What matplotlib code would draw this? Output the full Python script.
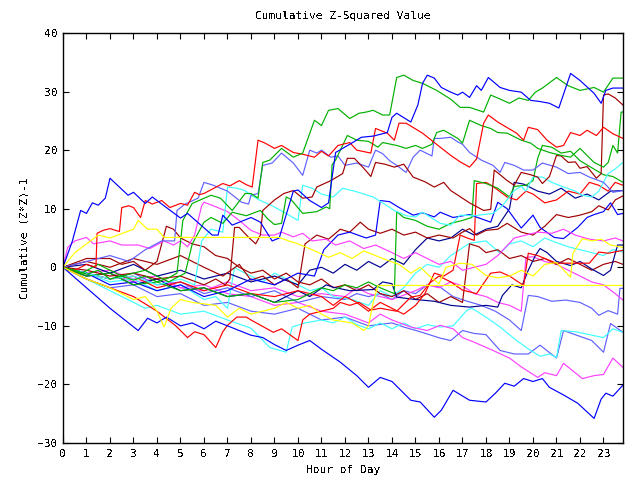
import matplotlib
matplotlib.use("Agg")
import matplotlib.pyplot as plt

# ---- data: (hour, cumulative value) vertices for each series ----
blue_top = [(0,0),(0.4,4.5),(0.75,9.7),(1.0,9.2),(1.25,11),(1.5,10.6),(1.8,11.8),(2.0,15.2),(2.77,12.3),(3.0,12.8),(3.5,10.9),(3.8,12),(5.0,8.4),(5.3,9.2),(6.35,5.5),(6.6,5.5),(6.8,8.9),(7.2,7.2),(8.0,8.5),(8.4,7.7),(8.9,4.5),(9.2,5),(9.8,13),(10.0,13.2),(10.5,11.4),(11.0,10.2),(11.3,11),(11.6,19.6),(12.2,21),(12.7,22.2),(13.2,22.4),(13.8,23),(14.0,25.6),(14.2,26.3),(14.8,24.8),(15.1,27.7),(15.3,31.4),(15.5,32.8),(15.8,32.3),(16.1,30.7),(16.5,29.9),(16.8,29.4),(17.0,29.9),(17.3,29),(17.6,31),(17.8,30.2),(18.1,32.4),(18.6,30.7),(19.0,30.2),(19.5,29.9),(19.9,28.5),(20.3,28.3),(20.7,28),(21.1,27.2),(21.6,33.1),(22.0,31.9),(22.6,29.7),(22.9,28),(23.1,30.2),(23.4,30.6),(23.83,30.6)]
green_top = [(0,0),(0.5,-0.5),(1,-1.2),(1.5,-0.5),(2,-2),(2.5,-1.5),(3,-2.2),(3.5,-1.5),(4,-2.5),(4.5,-1.8),(4.85,-1),(5.1,8.0),(5.5,10.9),(6.3,12.3),(6.7,11.8),(7.2,9.7),(7.75,12.6),(8.0,12.6),(8.3,11.8),(8.5,17.9),(8.8,18.3),(9.3,20.3),(9.8,18.8),(10.2,19.5),(10.7,25.1),(11.0,24.2),(11.3,26.8),(11.7,27.1),(12.2,25.4),(12.6,26.3),(12.9,26.5),(13.2,26.8),(13.6,26),(13.9,26),(14.2,32.4),(14.5,32.8),(14.9,31.9),(15.3,31.4),(15.9,30.2),(16.5,28.7),(16.9,27.3),(17.3,27.3),(17.9,26.5),(18.2,29.4),(18.5,28.9),(19.0,28),(19.4,28.9),(19.8,28.5),(20.1,29.9),(20.4,30.6),(21.0,32.4),(21.5,31),(22.0,30.2),(22.6,30.7),(23.0,29.9),(23.4,32.3),(23.83,32.3)]
green_mid = [(0,0),(0.8,-1),(1.5,0.5),(2.5,-1.5),(3.5,-0.5),(4.5,-2.5),(5.2,-1),(5.5,4),(6.0,7.7),(6.3,8.5),(6.8,7.5),(7.2,9.4),(7.8,8.8),(8.4,9.7),(8.7,8.3),(9.0,7.3),(9.3,7.5),(9.5,12.0),(9.7,11.6),(10.2,9.2),(10.8,9.5),(11.2,10.3),(11.35,10.0),(11.45,17.5),(11.6,18.3),(12.1,22.5),(12.5,21.7),(13.0,21.5),(13.4,20.5),(13.6,21.3),(14.2,20.8),(14.6,20.3),(15.0,20.8),(15.3,20.3),(15.7,21),(15.9,23),(16.2,23.4),(16.8,22),(17.0,21.2),(17.3,25.1),(17.8,24.2),(18.2,23.7),(18.5,23),(18.9,22.9),(19.5,21.7),(19.9,21.2),(20.2,20.3),(20.7,19.6),(21.2,19.1),(21.6,18.8),(22.0,20.3),(22.3,19.1),(22.6,17.9),(23.0,17.1),(23.2,17.9),(23.4,20.8),(23.6,19.5),(23.75,26.5),(23.83,26.5)]
red_upper = [(0,0),(0.5,-0.5),(1.0,0.5),(1.4,0),(1.45,5.8),(1.7,6.3),(2.0,6.6),(2.4,6.1),(2.5,10.2),(2.8,10.5),(3.0,10.2),(3.3,8.5),(3.5,11.4),(3.8,10.8),(4.2,11.4),(4.55,10.2),(5.0,10.9),(5.3,10.6),(5.6,12.8),(5.8,12.4),(6.0,12.6),(6.8,14.3),(7.1,13.9),(7.5,14.8),(7.8,14.1),(8.05,13.7),(8.3,21.7),(8.6,21.2),(9.0,20.3),(9.3,20.8),(9.8,19.6),(10.2,19.3),(10.7,18.8),(11.0,19.8),(11.3,19.0),(11.7,20.8),(12.2,21.3),(12.5,20.0),(13.1,19.5),(13.3,23.7),(13.8,22.9),(14.1,21.7),(14.3,24.6),(14.6,24.6),(15.3,22.9),(15.8,21.3),(16.5,19.1),(16.9,18.0),(17.3,17.1),(17.6,18.5),(17.9,24.6),(18.1,26),(18.5,24.8),(19.3,22.9),(19.6,21.7),(19.8,23.9),(20.2,23.5),(20.6,21.7),(21.0,20.5),(21.3,20.8),(21.6,23),(22.0,22.5),(22.3,23.4),(22.7,22.5),(23.0,23.9),(23.4,22.8),(23.83,22)]
lav_upper = [(0,0),(1,1),(2,2),(2.8,1),(3.5,3),(4.2,4.5),(4.75,4.5),(4.85,9.7),(5.2,10.8),(5.75,11.8),(6.0,14.5),(6.4,14),(7.0,13),(7.6,11.1),(7.9,10.8),(8.0,12.3),(8.3,12.6),(8.5,17.4),(8.9,17.8),(9.3,19.5),(9.8,17.8),(10.2,15.7),(10.5,20),(10.8,19.5),(11.0,20),(11.4,18.8),(11.7,19),(12.0,17.4),(12.5,17.8),(13.0,17.1),(13.3,20),(13.6,19.4),(13.9,18.2),(14.2,17.4),(14.6,16.2),(14.9,18.8),(15.2,20),(15.5,19.4),(15.7,19),(15.8,22),(16.05,22),(16.5,22.2),(16.8,21.4),(17.0,21),(17.3,19.6),(17.8,18.3),(18.3,17.4),(18.6,16.2),(18.8,17.9),(19.2,17.4),(19.6,16.6),(20.0,16.6),(20.4,17.8),(21.0,17.1),(21.5,16),(22.0,16.2),(22.4,15.4),(23.0,14.5),(23.4,12.8),(23.83,13.1)]
dred_upper = [(0,0),(1,-0.5),(2,-1.5),(3,-1),(4,-2),(5,-1.5),(6,-3),(6.5,-2),(6.9,-3),(7.1,-2),(7.3,6.8),(7.5,6.8),(7.9,5.1),(8.2,4.0),(8.4,5.5),(8.5,9.7),(9.0,11.5),(9.4,12.6),(9.8,13.1),(10.2,11.8),(10.6,12.0),(10.8,13.7),(11.4,14.8),(11.9,16.0),(12.1,18.6),(12.4,18.6),(12.8,16.9),(13.1,15.5),(13.3,17.9),(13.7,17.6),(14.1,17.1),(14.5,17.6),(14.9,15.4),(15.4,14.6),(15.8,13.7),(16.2,14.5),(16.5,13.1),(17.3,11.0),(17.9,9.7),(18.2,9.9),(18.35,16.6),(18.6,15.8),(18.9,14.8),(19.2,14.0),(19.5,16.2),(19.9,15.8),(20.2,15.4),(20.4,14.3),(20.7,15.5),(21.0,19.1),(21.2,19.0),(21.5,17.9),(21.8,18.0),(22.0,16.9),(22.3,17.2),(22.7,15.2),(22.9,16.0),(23.0,29.4),(23.2,29.6),(23.5,28.9),(23.83,27.7)]
cyan_upper = [(0,0),(1,-1),(2,-2),(3,-1.5),(4,-3),(5,-2),(5.6,-3),(5.9,4.5),(6.0,5),(6.3,6.5),(6.8,6),(7.0,13.7),(7.4,13.5),(7.75,13.1),(8.0,12.3),(8.4,11.4),(8.9,10.5),(9.4,9.4),(10.0,8.0),(10.2,14),(10.6,13.5),(11.0,12.5),(11.5,12),(11.9,13.5),(12.4,13),(12.8,12.5),(13.2,12),(13.6,11),(14.1,9.7),(14.6,8.8),(15.0,8.6),(15.3,9.4),(15.7,8.4),(16.05,7.5),(16.5,7.2),(16.9,8.9),(17.5,8.8),(18.3,9.2),(18.7,10.5),(19.2,13.1),(19.5,13.8),(19.7,13),(20.0,15.4),(20.4,15.4),(20.8,14.5),(21.3,13.7),(21.8,13),(22.1,12.3),(22.5,12),(22.8,13),(23.2,16),(23.5,16.8),(23.83,17.9)]
blue_low = [(0,0),(1,-3.5),(2,-7),(3.2,-10.8),(3.6,-8.7),(4.0,-9.5),(4.4,-8.5),(5.0,-10),(5.5,-9.5),(6.0,-10.5),(6.5,-9.2),(7.0,-10),(7.5,-10.8),(8.0,-11.6),(8.5,-12),(9.0,-13.2),(9.5,-14.2),(10.0,-13.3),(10.5,-12.5),(11.0,-14),(11.8,-16.2),(12.5,-18.5),(13.0,-20.5),(13.5,-18.8),(14.0,-19.5),(14.8,-22.7),(15.2,-23),(15.8,-25.6),(16.1,-24.4),(16.6,-21),(17.3,-22.7),(18.0,-23),(18.4,-21.5),(18.8,-19.8),(19.2,-20.3),(19.6,-19),(20.0,-19.5),(20.4,-19),(20.7,-20.5),(21.3,-21.8),(21.9,-23.2),(22.6,-25.8),(22.9,-22.5),(23.1,-21.5),(23.4,-22),(23.83,-20.1)]
red_low = [(0,0),(1,-2),(2,-3.5),(3,-5),(4,-7.5),(4.8,-10),(5.3,-12),(5.6,-11),(6.0,-11.5),(6.5,-13.7),(6.8,-11),(7.0,-9.9),(7.4,-8.5),(7.8,-8.5),(8.0,-9),(8.95,-11.1),(9.3,-10.5),(10.0,-12.5),(10.2,-9),(10.5,-8),(11.0,-7.5),(11.5,-7),(11.8,-6),(12.2,-6.5),(12.6,-6),(13.1,-7.3),(13.5,-7),(14.2,-7.5),(14.8,-5.1),(15.2,-4.8),(15.6,-2.7),(16.0,-1.5),(16.5,-2.5),(17.0,-3.9),(17.6,-4.5),(18.2,-1),(18.6,-0.8),(19.0,-1.5),(19.6,-3.1),(19.8,2.4),(20.2,2),(21.0,0.7),(22.4,0.7),(22.8,2.6),(23.2,2.4),(23.83,2.9)]
mag_low = [(0,0),(1,-1),(2,-0.5),(3,-2),(4,-1.5),(5,-3.5),(6,-3),(7,-4.5),(8,-5),(9,-6.5),(10,-6),(11,-7.5),(12,-8),(13,-9.5),(13.5,-8),(14,-9),(14.8,-10.2),(15.5,-10.8),(16.05,-9.9),(16.6,-10.5),(17.0,-12),(17.5,-12.8),(18.3,-14.2),(19.0,-15.5),(19.5,-17),(20.2,-18.8),(20.5,-18),(21.0,-18.5),(21.3,-16.4),(22.1,-19),(22.6,-18.5),(23.0,-18.3),(23.4,-15.5),(23.83,-17.1)]
lav_low = [(0,0),(1,-2),(2,-3.5),(3,-3),(4,-5),(5,-4.5),(6,-6.5),(7,-6),(8,-7.5),(9,-8),(10,-7),(11,-9),(12,-8.5),(13,-10),(14,-9.5),(14.5,-10.2),(15.2,-11),(16.05,-12.1),(16.5,-12.5),(17.0,-10.8),(17.5,-11.3),(18.0,-11.5),(18.6,-14.2),(19.2,-14.8),(19.8,-14.8),(20.3,-13.3),(21.0,-15.5),(21.3,-10.8),(22.0,-11.8),(22.5,-12.5),(23.0,-14.5),(23.3,-9.6),(23.83,-11.1)]
cyan_low = [(0,0),(1,-2),(2,-4),(3,-6),(3.5,-7),(4,-6.5),(5,-8),(6,-7.5),(7,-9),(8,-10.4),(8.8,-13.7),(9.5,-14.5),(9.75,-10.2),(10.3,-9.5),(11,-9),(11.5,-9.5),(12,-8.5),(12.5,-9.8),(13,-10.5),(13.5,-9.5),(14,-10.5),(14.5,-9.5),(15,-10.5),(15.5,-9.8),(16.05,-10.2),(16.6,-10),(17.2,-7.3),(17.4,-7),(18,-8.5),(18.6,-10.2),(19.3,-12.5),(19.9,-14.2),(20.3,-15.2),(20.7,-14.8),(21.0,-15.4),(21.2,-10.8),(21.8,-11),(22.4,-11.5),(23.0,-12),(23.4,-10.5),(23.83,-11.1)]
navy_a = [(0,0),(1,-1.5),(2,-1),(3,-3),(4,-2),(5,-4),(6,-3.5),(7,-5),(8,-4.5),(9,-6),(10,-4),(10.5,-5),(11.2,-3),(11.5,-3.4),(12.2,-4),(13.2,-3.8),(13.6,-2.5),(14.0,-2.8),(14.2,-5.1),(15.0,-5.5),(15.8,-5.8),(16.5,-6.5),(17.3,-6.8),(18.0,-6.5),(18.5,-6.8),(18.7,-4.8),(19.1,-3),(19.5,-3.5),(19.8,-0.5),(20.1,2),(20.3,3.2),(20.6,2.5),(21.0,1.0),(21.6,0.3),(22.0,1.0),(22.5,-0.3),(23.0,-1.4),(23.3,-0.5),(23.6,3.8),(23.83,3.8)]
blue_mid = [(0,0),(1,-1),(2,-3),(3,-2.5),(4,-4),(5,-3),(6,-5),(7,-4),(8,-2),(9,-3),(10,-1),(10.7,-1.5),(11.1,3),(11.7,5.5),(12.2,6),(12.9,5),(13.3,5.5),(13.5,11.4),(13.9,11.2),(14.3,10.2),(14.9,8.9),(15.3,9.3),(15.8,8.6),(16.05,9.4),(16.6,8.5),(17.3,9),(18.2,7.7),(18.5,11.1),(18.9,10),(19.5,6.7),(20.0,8.9),(20.3,6.8),(20.9,5.1),(21.3,4.9),(21.9,6.8),(22.3,8.5),(22.6,9),(23.0,9.5),(23.3,11),(23.6,9),(23.83,9.2)]
dred_mid = [(0,0),(1,1),(2,0),(3,1.5),(4,0.5),(5,2),(6,0),(6.8,-1.5),(7.5,0.5),(8.0,-2.2),(8.5,-1.5),(9.0,-3),(9.5,-2),(10.0,-3.5),(10.3,4),(10.8,5.5),(11.3,4.8),(11.8,6.5),(12.2,6),(12.65,7.7),(13.0,6.5),(13.5,5.8),(14.0,6.5),(14.5,5.5),(15.0,6.0),(15.5,5.0),(16.0,5.5),(16.6,5.0),(17.0,6.0),(17.3,6.6),(17.6,5.5),(18.0,6.3),(18.5,6.5),(18.9,7.5),(19.5,6),(20.0,5.5),(20.5,7),(21.0,9),(21.5,8.5),(22.0,8.9),(22.5,9.5),(22.8,10.5),(23.2,9.8),(23.5,11.5),(23.83,12.2)]
dred_low = [(0,0),(1,1.5),(2,1.5),(2.5,0.5),(3,1),(3.5,-0.5),(4,1),(4.4,7.0),(4.7,6.5),(5.0,5),(5.5,4),(6.0,3.5),(6.5,2),(7.0,1.5),(7.5,0),(8,-1),(8.5,-0.5),(9,-2),(9.5,-1),(10,-2.5),(10.5,-3),(11,-2),(11.5,-3.5),(12,-3),(12.5,-4),(13,-3),(13.5,-4.5),(14,-5),(14.5,-4),(15,-5.5),(15.5,-4.5),(16,-6),(16.5,-5),(17,-6),(17.3,4),(17.7,3.5),(18,2.5),(18.5,3),(19,1.5),(19.5,2),(20,1),(20.5,1.5),(21,0.5),(21.5,1.5),(22,0.5),(22.5,-0.5),(23,0.5),(23.5,1),(23.83,0.5)]
mag_high = [(0,0),(0.2,3.4),(0.5,4.5),(1.0,5.1),(1.3,4),(2,4.5),(2.5,3.8),(3.2,3.8),(3.7,3.2),(4.3,4.5),(4.7,3.8),(5.0,4.5),(5.3,3.5),(5.6,5.5),(5.9,10.5),(6.0,11.1),(6.4,10.5),(7.0,9.5),(7.5,8),(8.0,6.3),(8.5,5.5),(9.0,5.5),(9.3,6),(9.8,5.2),(10.2,5.8),(10.6,4.5),(11.2,4.8),(11.6,3.8),(12.2,4.5),(12.8,3.2),(13.3,3.8),(14,2.5),(14.5,1.5),(15,2.5),(15.5,1.5),(16,0.5),(16.5,1),(17,-0.5),(17.5,0),(18,0.5),(18.5,2),(19.2,5),(19.7,5.5),(20.2,6),(20.8,5.8),(21.3,6.5),(21.8,5.5),(22.4,4.8),(23,4.5),(23.5,5),(23.83,4.5)]
mag_mid = [(0,0),(1,-1.5),(2,-1),(3,-2.5),(4,-2),(5,-3.5),(6,-4),(7,-2.5),(8,-4),(9,-3.5),(10,-5),(11,-4.5),(12,-5),(12.5,-3.5),(13,-4.5),(14,-5.5),(15,-4),(15.5,-3),(16,-3.5),(16.5,-2.5),(17,-3.2),(17.5,-4.5),(18,-5),(18.5,-6),(19,-6.5),(19.5,-7.5),(19.7,1.7),(20,1.8),(20.5,1),(21,0.5),(21.5,-0.5),(22,-1.5),(22.5,-2.5),(23,-3),(23.5,-4.5),(23.83,-5.6)]
cyan_mid = [(0,0),(1,-1),(2,-2.5),(3,-2),(4,-4),(5,-3),(6,-5.5),(6.5,-5),(7,-7),(7.3,0),(7.5,-0.5),(8,-1.5),(8.5,-2.5),(9,-1),(9.5,-2),(10,-3),(10.5,-4),(11,-3.5),(11.5,-5),(12.3,-5.5),(13,-6.5),(13.5,-4),(14,-5),(14.5,-3.5),(15,-1),(15.5,0.5),(16,0),(16.5,2),(17.3,4.1),(18,4.5),(18.6,2.4),(19,4),(19.5,4.5),(20,3.5),(20.5,5),(21,4.2),(21.5,3.5),(22,3),(22.5,2.5),(23,2),(23.4,3),(23.83,2.6)]
green_jump = [(0,0),(1,-1.5),(2,-1),(3,-3),(4,-2.5),(5,-4),(6,-3.5),(7,-5),(8,-4.5),(9,-6),(10,-5.5),(11,-3.5),(11.5,-4),(12,-3),(12.5,-3.5),(13,-2.5),(13.5,-3.5),(14.1,-4.5),(14.2,9.5),(14.5,8.5),(15,8),(15.5,7),(16,6.5),(16.5,7.5),(17,8),(17.4,8.5),(17.5,14.8),(18,14.3),(18.5,13.5),(19,12),(19.2,13.8),(19.7,14),(20,14.8),(20.2,18.6),(20.4,20.8),(20.8,20.5),(21.2,19.5),(21.6,19.8),(22,18.2),(22.5,17),(23,15.8),(23.4,15.5),(23.83,14.5)]
red_mid = [(0,0),(1,-1),(2,-2),(3,-1.5),(4,-3.5),(5,-2.5),(6,-4),(7,-3),(8,-4.5),(9,-5),(10,-4),(11,-5),(11.5,-6.5),(12,-5),(12.5,-6),(13,-7.5),(13.5,-6),(14,-7),(14.5,-8),(15,-6.5),(15.4,-4.5),(15.8,-1.0),(16.2,-1.5),(16.6,-0.5),(16.9,5.5),(17.2,5.0),(17.5,4.6),(17.6,14.3),(18.0,14.5),(18.3,13.8),(18.9,12),(19.3,11.5),(19.7,13),(20.0,12.5),(20.5,11),(21,11.5),(21.5,13),(22,12.5),(22.4,14.5),(22.8,14),(23.2,13),(23.5,14.5),(23.83,14)]
navy_c = [(0,0),(1,0.5),(2,-1),(3,0.5),(4,-1.5),(5,-0.5),(6,-2),(7,-1),(8,-2.5),(9,-1.5),(10,-3),(10.5,-0.5),(11,0),(11.5,-1),(12,0.5),(12.5,-0.5),(13,1),(13.5,0),(14,1.5),(14.5,0.5),(15,3),(15.5,5),(16,4.5),(16.5,5),(17,6.5),(17.5,5.5),(18,6.5),(18.5,7),(19,10),(19.2,14.5),(19.6,14.2),(20.2,13),(20.7,12.5),(21.2,13.5),(21.8,11.8),(22.3,12.5),(22.8,11.5),(23.3,13),(23.83,13.1)]
lav_mid = [(0,0),(1,-1),(2,-2),(3,-1),(4,-3),(5,-2.5),(6,-4.5),(7,-3.5),(8,-5),(9,-4),(10,-6),(11,-5),(12,-5.5),(12.5,-4.5),(13,-5),(13.5,-4.5),(14,-5.5),(14.5,-4),(15,-4.5),(15.5,-3),(16.05,-3.4),(16.6,-5),(17.2,-5.8),(17.8,-6.5),(18.4,-7.5),(19.0,-9),(19.5,-10.8),(19.8,-4.8),(20.2,-5),(20.8,-5.8),(21.4,-5.6),(22.0,-6),(22.5,-7),(22.8,-8.2),(23.2,-7.4),(23.6,-8),(23.7,-3.6),(23.83,-3.6)]
yel_high = [(0,0),(0.5,2.5),(1,4),(1.5,5.5),(2,5),(3,6.5),(3.2,8),(3.6,6.5),(4.0,6.5),(4.3,5.1),(9.2,5.1),(9.6,4.5),(10.0,4),(10.6,3),(11.3,1.7),(11.8,2.5),(12.3,1.5),(12.8,2.8),(13.3,2),(13.8,1.2),(14.3,0.5),(14.8,-1),(15.2,0),(15.6,-1.5),(16.0,-2.8),(16.3,0),(16.9,0.7),(17.4,0.5),(18.0,-1.4),(18.5,-1.8),(19.0,-1.5),(19.5,-0.5),(20.0,-1.5),(20.5,0.5),(21.0,0.8),(21.6,-1.7),(21.7,2.4),(22.1,4.9),(22.5,4.5),(22.9,4.8),(23.3,3.8),(23.83,3.4)]
yel_low = [(0,0),(1,-2),(2,-3.5),(3,-5.5),(3.5,-5),(4,-7.5),(4.3,-10.2),(4.6,-7),(5,-5.5),(5.5,-6),(6.5,-6.5),(7.0,-8.5),(7.5,-7),(8,-8),(9,-7),(9.5,-6),(10,-7),(10.5,-6.5),(11,-8),(11.5,-9),(12.3,-9.5),(12.8,-10.8),(13.0,-10),(13.2,-6),(13.4,-3.1),(23.83,-3.1)]

RED, GREEN, BLUE = "#ff0000", "#00b000", "#0000ff"
MAG, CYAN, YEL = "#ff40ff", "#40ffff", "#ffff00"
DRED, LAV, NAVY = "#a00000", "#6060ff", "#000090"

series = [
    (lav_low, LAV), (cyan_low, CYAN), (mag_low, MAG), (lav_mid, LAV),
    (mag_mid, MAG), (cyan_mid, CYAN), (navy_c, NAVY), (dred_low, DRED),
    (navy_a, NAVY), (red_mid, RED), (dred_mid, DRED), (blue_mid, BLUE),
    (mag_high, MAG), (green_jump, GREEN), (cyan_upper, CYAN), (red_low, RED),
    (lav_upper, LAV), (dred_upper, DRED), (green_mid, GREEN), (red_upper, RED),
    (blue_low, BLUE), (green_top, GREEN), (blue_top, BLUE),
    (yel_high, YEL), (yel_low, YEL),
]

hour_ticks = list(range(0, 24))
value_ticks = list(range(-30, 41, 10))

plt.rcParams["font.family"] = ["DejaVu Sans Mono"]
plt.rcParams["text.antialiased"] = False
fig = plt.figure(figsize=(6.4, 4.8), dpi=100)
ax = fig.add_axes([63/640, 37/480, 560/640, 410/480])

for pts, col in series:
    hx = [p[0] for p in pts]
    vy = [p[1] for p in pts]
    ax.plot(hx, vy, color=col, lw=0.85)

ax.set_xlim(0, 23.83)
ax.set_ylim(-30, 40)
ax.set_xticks(hour_ticks)
ax.set_xticklabels([str(h) for h in hour_ticks])
ax.set_yticks(value_ticks)
ax.tick_params(direction="in", length=4, width=0.8, top=True, right=True,
               labelsize=8, pad=4, colors="black")
for sp in ax.spines.values():
    sp.set_linewidth(1.0)

fig.text(343/640, 1 - 16/480, "Cumulative Z-Squared Value", ha="center", va="center", fontsize=8)
fig.text(343/640, 1 - 470/480, "Hour of Day", ha="center", va="center", fontsize=8)
fig.text(25/640, 1 - 238/480, "Cumulative (Z*Z)-1", ha="center", va="center", rotation=90, fontsize=8)

fig.savefig("out.png", dpi=100)
